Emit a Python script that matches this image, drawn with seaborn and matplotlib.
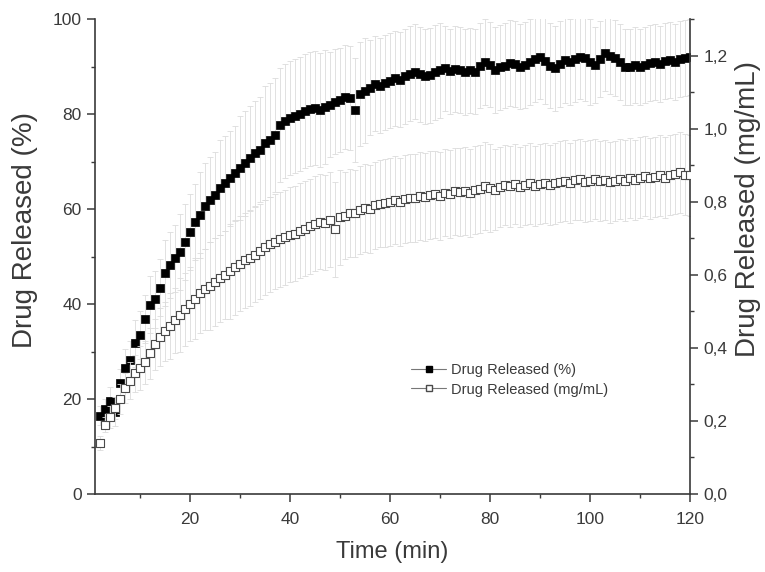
import matplotlib
matplotlib.use("Agg")
import matplotlib.pyplot as plt
import seaborn as sns
from matplotlib.lines import Line2D
from matplotlib.ticker import MultipleLocator, FuncFormatter

# sampling times (min), one reading per minute
time_min = list(range(2, 121))

# Drug released (%) - mean, t = 2..120
pct_mean = [16.5, 18.0, 19.5, 17.3, 23.4, 26.5, 28.2, 31.7, 33.5,
            36.8, 39.8, 41.0, 43.4, 46.5, 48.2, 49.6, 50.9, 53.1, 55.2,
            57.3, 58.7, 60.6, 62.0, 62.9, 64.5, 65.4, 66.5, 67.5, 68.6,
            69.6, 70.7, 71.7, 72.5, 73.8, 74.6, 75.6, 77.7, 78.5, 79.1,
            79.6, 80.1, 80.6, 81.0, 81.2, 80.8, 81.5, 82.0, 82.6, 83.0,
            83.6, 83.4, 80.8, 84.2, 84.9, 85.5, 86.4, 86.0, 86.6, 87.0,
            87.5, 87.2, 88.0, 88.5, 88.9, 88.4, 88.0, 88.2, 88.8, 89.2,
            89.6, 89.0, 89.5, 89.3, 88.8, 89.2, 88.9, 90.2, 91.0, 90.4,
            89.3, 89.8, 90.2, 90.7, 90.5, 90.0, 90.3, 91.0, 91.5, 92.1,
            91.2, 90.2, 89.6, 90.5, 91.4, 91.0, 91.6, 92.1, 91.8, 91.0,
            90.3, 91.5, 92.8, 92.3, 91.7, 91.0, 90.0, 89.8, 90.4, 90.0,
            90.3, 90.8, 91.0, 90.6, 91.2, 91.4, 91.0, 91.5, 91.7, 91.9]
pct_sd = [2, 2, 3, 3, 3, 4, 4, 5, 5,
          5, 6, 6, 6, 7, 7, 7, 8, 8, 8,
          8, 9, 9, 9, 9, 10, 10, 10, 10, 11,
          11, 11, 11, 11, 12, 12, 12, 12, 12, 12,
          12, 12, 12, 12, 12, 12, 12, 11, 11, 11,
          11, 11, 11, 11, 11, 10, 10, 10, 10, 10,
          10, 10, 10, 10, 10, 10, 10, 10, 10, 10,
          9, 9, 9, 9, 9, 9, 9, 9, 9, 9,
          9, 9, 9, 9, 9, 9, 9, 9, 9, 9,
          9, 9, 9, 9, 9, 9, 9, 9, 9, 9,
          8, 8, 8, 8, 8, 8, 8, 8, 8, 8,
          8, 8, 8, 8, 8, 8, 8, 8, 8, 8]

# Drug released (mg/mL) - mean, t = 2..120
mg_mean = [0.14, 0.19, 0.21, 0.235, 0.26, 0.29, 0.31, 0.33, 0.345,
           0.36, 0.385, 0.41, 0.43, 0.445, 0.46, 0.475, 0.49, 0.505, 0.52,
           0.535, 0.55, 0.56, 0.57, 0.58, 0.59, 0.60, 0.61, 0.62, 0.63,
           0.64, 0.645, 0.655, 0.665, 0.675, 0.683, 0.69, 0.697, 0.703, 0.71,
           0.712, 0.72, 0.726, 0.733, 0.74, 0.745, 0.742, 0.75, 0.724, 0.758,
           0.762, 0.77, 0.768, 0.778, 0.783, 0.78, 0.79, 0.795, 0.797, 0.80,
           0.805, 0.80, 0.808, 0.811, 0.81, 0.815, 0.812, 0.818, 0.82, 0.816,
           0.825, 0.822, 0.828, 0.826, 0.83, 0.824, 0.832, 0.835, 0.843, 0.838,
           0.833, 0.84, 0.845, 0.842, 0.848, 0.84, 0.845, 0.85, 0.843, 0.848,
           0.852, 0.845, 0.85, 0.855, 0.858, 0.852, 0.86, 0.861, 0.855, 0.858,
           0.862, 0.856, 0.86, 0.853, 0.857, 0.862, 0.858, 0.865, 0.86, 0.866,
           0.87, 0.864, 0.868, 0.872, 0.866, 0.873, 0.876, 0.88, 0.874, 0.872]
mg_sd = [0.02, 0.02, 0.03, 0.03, 0.04, 0.04, 0.05, 0.05, 0.06,
         0.06, 0.07, 0.07, 0.08, 0.08, 0.09, 0.09, 0.10, 0.10, 0.10,
         0.11, 0.11, 0.11, 0.12, 0.12, 0.12, 0.12, 0.13, 0.13, 0.13,
         0.13, 0.13, 0.13, 0.13, 0.13, 0.13, 0.13, 0.13, 0.13, 0.13,
         0.13, 0.13, 0.13, 0.13, 0.13, 0.13, 0.13, 0.13, 0.13, 0.13,
         0.12, 0.12, 0.12, 0.12, 0.12, 0.12, 0.12, 0.12, 0.12, 0.12,
         0.12, 0.12, 0.12, 0.12, 0.12, 0.12, 0.12, 0.12, 0.12, 0.12,
         0.12, 0.12, 0.12, 0.12, 0.12, 0.12, 0.12, 0.12, 0.12, 0.12,
         0.11, 0.11, 0.11, 0.11, 0.11, 0.11, 0.11, 0.11, 0.11, 0.11,
         0.11, 0.11, 0.11, 0.11, 0.11, 0.11, 0.11, 0.11, 0.11, 0.11,
         0.11, 0.11, 0.11, 0.11, 0.11, 0.11, 0.11, 0.11, 0.11, 0.11,
         0.11, 0.11, 0.11, 0.11, 0.11, 0.11, 0.11, 0.11, 0.11, 0.11]

label_pct = "Drug Released (%)"
label_mg = "Drug Released (mg/mL)"

sns.set_style("ticks")
plt.rcParams['font.family'] = ['Liberation Sans', 'DejaVu Sans']

INK = "#3a3a3a"
BAR = "#dcdcdc"

fig = plt.figure(figsize=(7.65, 5.72), dpi=100)
ax = fig.add_axes([95 / 765, 78 / 572, 595 / 765, 475 / 572])
ax2 = ax.twinx()

# error bars behind the markers
ax.errorbar(time_min, pct_mean, yerr=pct_sd, fmt="none", ecolor=BAR,
            elinewidth=0.6, capsize=2, capthick=0.6, zorder=1)
ax2.errorbar(time_min, mg_mean, yerr=mg_sd, fmt="none", ecolor=BAR,
             elinewidth=0.6, capsize=2, capthick=0.6, zorder=1)

sns.scatterplot(x=time_min, y=pct_mean, ax=ax, marker="s", s=28,
                color="black", edgecolor="black", linewidth=0.5,
                zorder=3, legend=False)
sns.scatterplot(x=time_min, y=mg_mean, ax=ax2, marker="s", s=28,
                color="white", edgecolor="#4a4a4a", linewidth=0.8,
                zorder=3, legend=False)

ax.set_xlim(1, 120)
ax.set_ylim(0, 100)
ax2.set_ylim(0, 1.3)

ax.xaxis.set_major_locator(MultipleLocator(20))
ax.xaxis.set_minor_locator(MultipleLocator(10))
ax.yaxis.set_major_locator(MultipleLocator(20))
ax.yaxis.set_minor_locator(MultipleLocator(10))
ax2.yaxis.set_major_locator(MultipleLocator(0.2))
ax2.yaxis.set_minor_locator(MultipleLocator(0.1))
ax2.yaxis.set_major_formatter(FuncFormatter(lambda v, _: f"{v:.1f}".replace(".", ",")))

for a in (ax, ax2):
    for side in a.spines:
        a.spines[side].set_color(INK)
        a.spines[side].set_linewidth(1.2)
    a.spines["top"].set_visible(False)
    a.tick_params(which="major", length=6, width=1.1, color=INK,
                  labelcolor=INK, labelsize=12.5, direction="out")
    a.tick_params(which="minor", length=3, width=1.0, color=INK, direction="out")
ax.spines["right"].set_visible(False)
ax2.spines["left"].set_visible(False)
ax2.spines["bottom"].set_visible(False)
ax.tick_params(axis="x", which="major", pad=7)

ax.set_xlabel("Time (min)", fontsize=17, color=INK, labelpad=10)
ax.set_ylabel(label_pct, fontsize=20, color=INK, va="center")
ax.yaxis.set_label_coords(-0.118, 0.556)
ax2.set_ylabel(label_mg, fontsize=20, color=INK, va="center", rotation=90)
ax2.yaxis.set_label_coords(1.098, 0.6)

handles = [
    Line2D([], [], color="#777777", lw=0.8, marker="s", markersize=5,
           markerfacecolor="black", markeredgecolor="black"),
    Line2D([], [], color="#777777", lw=0.8, marker="s", markersize=5,
           markerfacecolor="white", markeredgecolor="#4a4a4a"),
]
ax2.legend(handles, [label_pct, label_mg], loc="center left",
           bbox_to_anchor=(398 / 765, 1 - 380 / 572), bbox_transform=fig.transFigure,
           frameon=False, fontsize=10.5, handlelength=2.4, handletextpad=0.3,
           labelspacing=0.35, labelcolor=INK)

fig.savefig("out.png", dpi=100)
